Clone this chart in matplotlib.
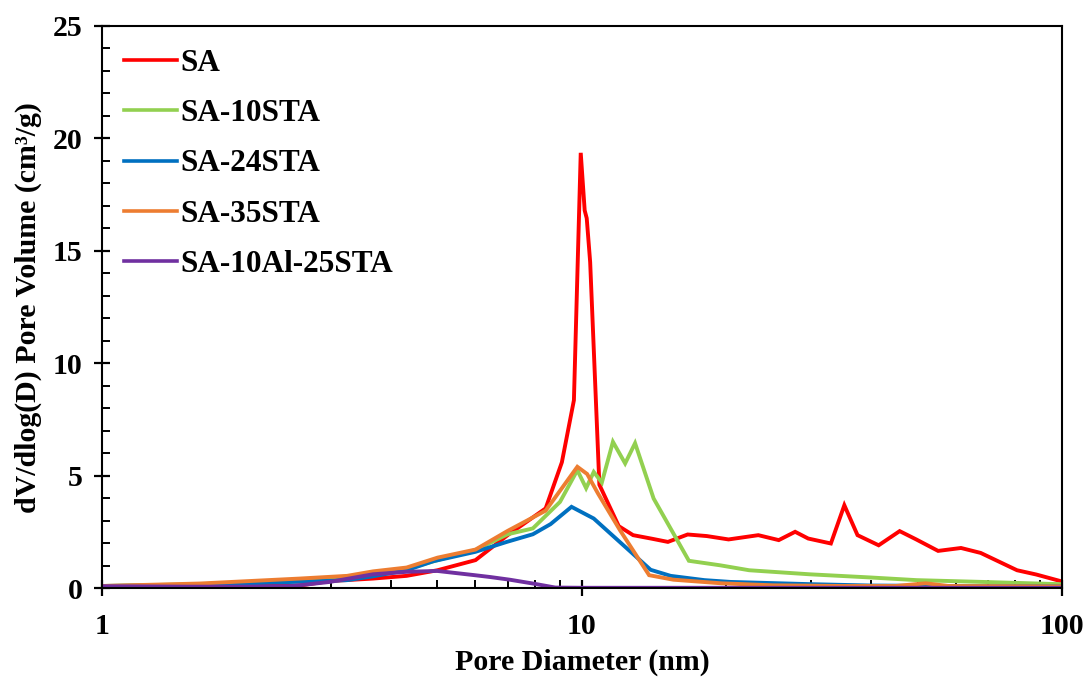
import matplotlib
matplotlib.use("Agg")
import matplotlib.pyplot as plt
from matplotlib.ticker import MultipleLocator, LogLocator, NullFormatter, FixedLocator

plt.rcParams["font.family"] = ["Liberation Serif", "DejaVu Serif"]
plt.rcParams["font.weight"] = "bold"

# pore diameter (nm) and dV/dlog(D) (cm3/g)
sa_d = [1.0, 1.6, 2.58, 2.98, 3.67, 4.31, 5.0, 6.0, 7.0, 8.4, 9.08, 9.62, 9.94,
        10.13, 10.23, 10.4, 10.87, 11.93, 12.78, 14.0, 15.1, 16.6, 18.2, 20.2,
        23.3, 25.7, 27.8, 29.6, 33.0, 35.2, 37.5, 41.5, 45.9, 49.7, 55.2, 61.6,
        67.7, 80.6, 88.4, 99.6]
sa_v = [0.09, 0.08, 0.12, 0.32, 0.43, 0.55, 0.80, 1.25, 2.36, 3.55, 5.6, 8.36, 19.36,
        16.8, 16.45, 14.5, 4.6, 2.76, 2.36, 2.2, 2.06, 2.39, 2.32, 2.17,
        2.36, 2.14, 2.51, 2.21, 1.99, 3.69, 2.36, 1.91, 2.54, 2.17, 1.66, 1.79,
        1.57, 0.80, 0.61, 0.31]

sta10_d = [1.0, 1.6, 2.58, 3.0, 3.67, 4.31, 5.0, 6.0, 7.0, 7.9, 9.0, 9.78, 10.2,
           10.58, 11.0, 11.6, 12.3, 12.9, 14.1, 16.7, 19.4, 22.3, 29.8, 39.8,
           49.8, 68.5, 99.6]
sta10_v = [0.1, 0.18, 0.36, 0.45, 0.65, 0.85, 1.25, 1.7, 2.4, 2.66, 3.84, 5.25, 4.45,
           5.17, 4.7, 6.51, 5.55, 6.45, 3.99, 1.22, 1.02, 0.80, 0.62, 0.48,
           0.36, 0.28, 0.18]

sta24_d = [1.0, 1.6, 2.58, 3.24, 3.67, 4.31, 4.9, 6.0, 6.97, 7.9, 8.6, 9.51,
           10.58, 13.9, 15.3, 18.0, 20.4, 30.0, 40.0, 60.0, 100.0]
sta24_v = [0.1, 0.15, 0.29, 0.36, 0.53, 0.80, 1.2, 1.62, 2.06, 2.4, 2.85, 3.62,
           3.10, 0.82, 0.55, 0.36, 0.28, 0.18, 0.12, 0.1, 0.08]

sta35_d = [1.0, 1.6, 2.58, 3.24, 3.67, 4.31, 5.0, 6.0, 7.0, 8.4, 9.78, 10.25,
           10.8, 12.0, 13.8, 15.5, 19.5, 25.0, 35.0, 45.0, 52.0, 58.0, 100.0]
sta35_v = [0.1, 0.21, 0.43, 0.55, 0.75, 0.92, 1.36, 1.72, 2.55, 3.45, 5.40, 5.08,
           4.21, 2.58, 0.58, 0.38, 0.22, 0.13, 0.1, 0.1, 0.22, 0.1, 0.08]

al_d = [1.0, 1.5, 2.0, 2.5, 2.98, 3.67, 4.31, 4.99, 5.98, 6.43, 7.07, 7.9, 8.8,
        10.0, 20.0, 100.0]
al_v = [0.09, 0.07, 0.07, 0.1, 0.28, 0.62, 0.73, 0.77, 0.58, 0.5, 0.38, 0.21, 0.03,
        0.02, 0.02, 0.02]

series = [
    ("SA", sa_d, sa_v, "#FF0000"),
    ("SA-10STA", sta10_d, sta10_v, "#92D050"),
    ("SA-24STA", sta24_d, sta24_v, "#0070C0"),
    ("SA-35STA", sta35_d, sta35_v, "#ED7D31"),
    ("SA-10Al-25STA", al_d, al_v, "#7030A0"),
]

fig = plt.figure(figsize=(10.86, 6.84), dpi=100)
ax = fig.add_axes([0.0939, 0.140, 0.8840, 0.822])

for name, d, v, c in series:
    ax.plot(d, v, color=c, lw=2.8, label=name, solid_joinstyle="miter")

ax.set_xscale("log")
ax.set_xlim(1, 100)
ax.set_ylim(0, 25)

ax.xaxis.set_major_locator(FixedLocator([1, 10, 100]))
ax.xaxis.set_major_formatter(matplotlib.ticker.FuncFormatter(lambda x, p: f"{x:g}"))
ax.xaxis.set_minor_locator(LogLocator(base=10, subs=range(2, 10)))
ax.xaxis.set_minor_formatter(NullFormatter())
ax.yaxis.set_major_locator(MultipleLocator(5))
ax.yaxis.set_minor_locator(MultipleLocator(1))

ax.tick_params(which="major", direction="inout", length=12, width=1.6, labelsize=21.5, pad=8)
ax.tick_params(which="minor", direction="in", length=6, width=1.4)
ax.tick_params(axis="x", which="major", pad=12)
for s in ax.spines.values():
    s.set_linewidth(1.5)

ax.set_xlabel("Pore Diameter (nm)", fontsize=21.5, fontweight="bold", labelpad=6)
ax.set_ylabel("dV/dlog(D) Pore Volume (cm\u00b3/g)", fontsize=21.5, fontweight="bold", labelpad=8)

leg = ax.legend(loc="upper left", bbox_to_anchor=(0.0, 0.998), frameon=False, fontsize=22.5,
                handlelength=1.7, handletextpad=0.12, labelspacing=0.68, borderaxespad=0.3)
for h in leg.get_lines():
    h.set_linewidth(2.6)

fig.savefig("out.png", dpi=100)
